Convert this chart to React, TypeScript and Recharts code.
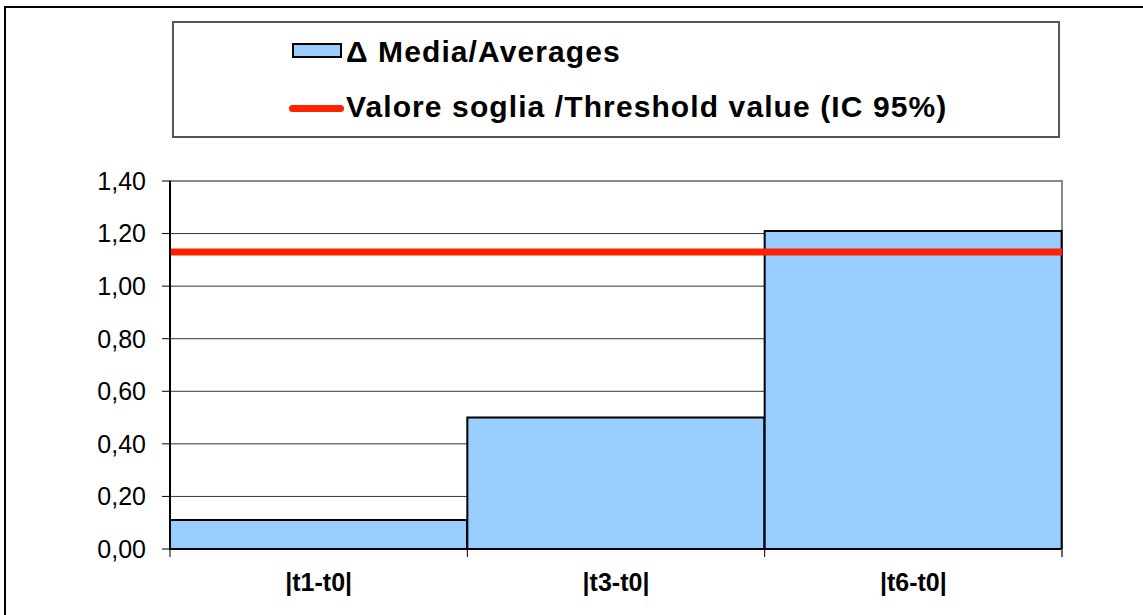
import {
  BarChart,
  Bar,
  XAxis,
  YAxis,
  CartesianGrid,
  ReferenceLine,
  ReferenceArea,
  Legend,
} from "recharts";

const FONT = "'Liberation Sans', Arial, sans-serif";
const BAR_BLUE = "#99ccff";
const THRESHOLD_RED = "#ff2200";

// ── data ──────────────────────────────────────────────────────────────────────
const categories = ["|t1-t0|", "|t3-t0|", "|t6-t0|"];
const deltaAverages = [0.11, 0.5, 1.21];
const thresholdValue = 1.13;
const yTicks = [0, 0.2, 0.4, 0.6, 0.8, 1.0, 1.2, 1.4];
const seriesNames = ["Δ Media/Averages", "Valore soglia /Threshold value (IC 95%)"];

const data = categories.map((label, i) => ({ label, value: deltaAverages[i] }));

const fmtComma = (v: number) => v.toFixed(2).replace(".", ",");

// ── x tick: label + tick marks on category boundaries ────────────────────────
function CategoryTick(props: any) {
  const { x, y, payload, index } = props;
  const half = payload?.offset ?? 148.7;
  const last = index === categories.length - 1;
  return (
    <g>
      <line x1={x - half} x2={x - half} y1={y} y2={y + 8} stroke="#000" strokeWidth={1} />
      {last && (
        <line x1={x + half} x2={x + half} y1={y} y2={y + 8} stroke="#666" strokeWidth={2} />
      )}
      <text
        x={x}
        y={y + 42}
        textAnchor="middle"
        fontFamily={FONT}
        fontWeight="bold"
        fontSize={25}
        fill="#000"
      >
        {payload.value}
      </text>
    </g>
  );
}

// ── legend box ────────────────────────────────────────────────────────────────
function LegendBox() {
  const textStyle = {
    position: "absolute" as const,
    left: 172,
    fontFamily: FONT,
    fontWeight: "bold" as const,
    fontSize: 30,
    lineHeight: "34px",
    letterSpacing: 1.1,
    color: "#000",
    whiteSpace: "nowrap" as const,
  };
  return (
    <div
      style={{
        position: "relative",
        width: 888,
        height: 117,
        border: "2px solid #555",
        boxSizing: "border-box",
        background: "#fff",
      }}
    >
      <div
        style={{
          position: "absolute",
          left: 118,
          top: 20,
          width: 50,
          height: 15,
          background: BAR_BLUE,
          border: "2px solid #000",
          boxSizing: "border-box",
        }}
      />
      <div style={{ ...textStyle, top: 12 }}>{seriesNames[0]}</div>
      <div
        style={{
          position: "absolute",
          left: 115,
          top: 82,
          width: 55,
          height: 7,
          borderRadius: 4,
          background: THRESHOLD_RED,
        }}
      />
      <div style={{ ...textStyle, top: 67 }}>{seriesNames[1]}</div>
    </div>
  );
}

export default function App() {
  return (
    <div
      style={{
        position: "absolute",
        left: 0,
        top: 0,
        width: 1143,
        height: 615,
        background: "#fff",
        overflow: "hidden",
      }}
    >
      <BarChart
        width={1143}
        height={615}
        data={data}
        margin={{ top: 181, right: 81, bottom: 0, left: 0 }}
        barCategoryGap={0}
      >
        <CartesianGrid vertical={false} stroke="#333" strokeWidth={1} />
        <ReferenceArea y1={0} y2={1.4} fill="none" stroke="#8a8a8a" strokeWidth={2} />
        <XAxis
          dataKey="label"
          height={66}
          axisLine={{ stroke: "#000", strokeWidth: 2 }}
          tickLine={false}
          tickSize={0}
          tickMargin={0}
          interval={0}
          tick={<CategoryTick />}
        />
        <YAxis
          width={170}
          domain={[0, 1.4]}
          ticks={yTicks}
          interval={0}
          tickFormatter={fmtComma}
          tick={{ fontSize: 25, fill: "#000", fontFamily: FONT }}
          tickSize={8}
          tickMargin={16}
          tickLine={{ stroke: "#000", strokeWidth: 1 }}
          axisLine={{ stroke: "#000", strokeWidth: 2 }}
        />
        <Bar
          dataKey="value"
          name={seriesNames[0]}
          fill={BAR_BLUE}
          stroke="#000"
          strokeWidth={2}
          isAnimationActive={false}
        />
        <ReferenceLine y={thresholdValue} stroke={THRESHOLD_RED} strokeWidth={7} />
        <Legend
          layout="vertical"
          align="center"
          verticalAlign="middle"
          wrapperStyle={{ left: 172, top: 21, width: 888, height: 117 }}
          content={() => <LegendBox />}
        />
      </BarChart>
      {/* outer frame, drawn last so it stays on top */}
      <div
        style={{
          position: "absolute",
          left: 4,
          top: 6,
          width: 1139,
          height: 609,
          borderTop: "2px solid #000",
          borderLeft: "2px solid #000",
          boxSizing: "border-box",
          pointerEvents: "none",
        }}
      />
    </div>
  );
}
